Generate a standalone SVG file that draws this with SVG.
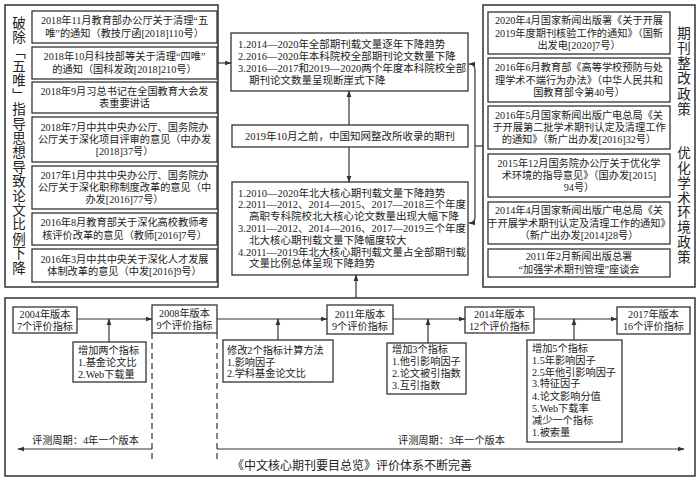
<svg xmlns="http://www.w3.org/2000/svg" width="700" height="483" viewBox="0 0 700 483">
<defs>
<style>
.bg{fill:#fff}
.b{fill:#fff;stroke:#333;stroke-width:1.3}
.o{fill:none;stroke:#333;stroke-width:1.5}
.t{font-family:"Liberation Serif","Noto Sans CJK SC",serif;font-size:10.2px;fill:#222}
.m{font-size:10.5px}
.c{text-anchor:middle}
.v{font-family:"Noto Sans CJK SC",sans-serif;font-size:13.5px;fill:#222;writing-mode:vertical-rl;text-orientation:upright}
.ttl{font-family:"Liberation Serif","Noto Sans CJK SC",serif;font-size:12px;fill:#222;text-anchor:middle}
.ln{fill:none;stroke:#333;stroke-width:1.2}
.ds{fill:none;stroke:#333;stroke-width:1.2;stroke-dasharray:6,4}
</style>
<marker id="ar" viewBox="0 0 10 10" refX="9" refY="5" markerWidth="7" markerHeight="7" orient="auto" markerUnits="userSpaceOnUse">
<path d="M0,1.5 L10,5 L0,8.5 Z" fill="#333"/>
</marker>
</defs>
<rect class="bg" x="0" y="0" width="700" height="483"/>

<g id="left-panel">
<rect class="o" x="5" y="5" width="213" height="282"/>
<text class="v" x="19" y="16" letter-spacing="0.9">破除﹁五唯﹂指导思想导致论文比例下降</text>
</g>
<g id="l1"><rect class="b" x="32" y="11" width="185" height="32"/><text class="t c"><tspan x="124.5" y="24.4">2018年11月教育部办公厅关于清理“五</tspan><tspan x="124.5" y="36.7">唯”的通知（教技厅函[2018]110号）</tspan></text></g>
<g id="l2"><rect class="b" x="32" y="47" width="185" height="32"/><text class="t c"><tspan x="124.5" y="60.4">2018年10月科技部等关于清理“四唯”</tspan><tspan x="124.5" y="72.7">的通知（国科发政[2018]210号）</tspan></text></g>
<g id="l3"><rect class="b" x="32" y="82" width="185" height="31"/><text class="t c"><tspan x="124.5" y="94.9">2018年9月习总书记在全国教育大会发</tspan><tspan x="124.5" y="107.2">表重要讲话</tspan></text></g>
<g id="l4"><rect class="b" x="32" y="117" width="185" height="45"/><text class="t c"><tspan x="124.5" y="130.7">2018年7月中共中央办公厅、国务院办</tspan><tspan x="124.5" y="143">公厅关于深化项目评审的意见（中办发</tspan><tspan x="124.5" y="155.3">[2018]37号）</tspan></text></g>
<g id="l5"><rect class="b" x="32" y="166" width="185" height="43"/><text class="t c"><tspan x="124.5" y="178.7">2017年1月中共中央办公厅、国务院办</tspan><tspan x="124.5" y="191">公厅关于深化职称制度改革的意见（中</tspan><tspan x="124.5" y="203.3">办发[2016]77号）</tspan></text></g>
<g id="l6"><rect class="b" x="32" y="213" width="185" height="32"/><text class="t c"><tspan x="124.5" y="226.4">2016年8月教育部关于深化高校教师考</tspan><tspan x="124.5" y="238.7">核评价改革的意见（教师[2016]7号）</tspan></text></g>
<g id="l7"><rect class="b" x="32" y="249" width="185" height="33"/><text class="t c"><tspan x="124.5" y="262.9">2016年3月中共中央关于深化人才发展</tspan><tspan x="124.5" y="275.2">体制改革的意见（中发[2016]9号）</tspan></text></g>

<g id="right-panel">
<rect class="o" x="483" y="5" width="212" height="282"/>
<text class="v" x="684" y="26" letter-spacing="1.7">期刊整改政策</text>
<text class="v" x="684" y="146" letter-spacing="1.4">优化学术环境政策</text>
</g>
<g id="r1"><rect class="b" x="488" y="12" width="182" height="42"/><text class="t c"><tspan x="579" y="24.2">2020年4月国家新闻出版署《关于开展</tspan><tspan x="579" y="36.5">2019年度期刊核验工作的通知》（国新</tspan><tspan x="579" y="48.8">出发电[2020]7号）</tspan></text></g>
<g id="r2"><rect class="b" x="488" y="58" width="182" height="44"/><text class="t c"><tspan x="579" y="71.2">2016年6月教育部《高等学校预防与处</tspan><tspan x="579" y="83.5">理学术不端行为办法》（中华人民共和</tspan><tspan x="579" y="95.8">国教育部令第40号）</tspan></text></g>
<g id="r3"><rect class="b" x="488" y="106" width="182" height="43"/><text class="t c"><tspan x="579" y="118.7">2016年5月国家新闻出版广电总局《关</tspan><tspan x="579" y="131">于开展第二批学术期刊认定及清理工作</tspan><tspan x="579" y="143.3">的通知》（新广出办发[2016]32号）</tspan></text></g>
<g id="r4"><rect class="b" x="488" y="154" width="182" height="43"/><text class="t c"><tspan x="579" y="166.7">2015年12月国务院办公厅关于优化学</tspan><tspan x="579" y="179">术环境的指导意见》（国办发[2015]</tspan><tspan x="579" y="191.3">94号）</tspan></text></g>
<g id="r5"><rect class="b" x="488" y="202" width="182" height="42"/><text class="t c"><tspan x="579" y="214.2">2014年4月国家新闻出版广电总局《关</tspan><tspan x="579" y="226.5">于开展学术期刊认定及清理工作的通知》</tspan><tspan x="579" y="238.8">（新广出办发[2014]28号）</tspan></text></g>
<g id="r6"><rect class="b" x="488" y="249" width="182" height="28"/><text class="t c"><tspan x="579" y="260.4">2011年2月新闻出版总署</tspan><tspan x="579" y="272.7">“加强学术期刊管理”座谈会</tspan></text></g>

<g id="m1"><rect class="b" x="231" y="33" width="237" height="58"/><text class="t m"><tspan x="238" y="47.5">1.2014—2020年全部期刊载文量逐年下降趋势</tspan><tspan x="238" y="59.5">2.2016—2020年本科院校全部期刊论文数量下降</tspan><tspan x="238" y="71.5">3.2016—2017和2019—2020两个年度本科院校全部</tspan><tspan x="249" y="83.5">期刊论文数量呈现断崖式下降</tspan></text></g>
<g id="m2"><rect class="b" x="232" y="125" width="236" height="22"/><text class="t m c" x="350" y="139.5">2019年10月之前，中国知网整改所收录的期刊</text></g>
<g id="m3"><rect class="b" x="232" y="182" width="236" height="93"/><text class="t m"><tspan x="238" y="196.6">1.2010—2020年北大核心期刊载文量下降趋势</tspan><tspan x="238" y="208.4">2.2011—2012、2014—2015、2017—2018三个年度</tspan><tspan x="249" y="220.2">高职专科院校北大核心论文数量出现大幅下降</tspan><tspan x="238" y="232">3.2011—2012、2014—2016、2017—2019三个年度</tspan><tspan x="249" y="243.8">北大核心期刊载文量下降幅度较大</tspan><tspan x="238" y="255.6">4.2011—2019年北大核心期刊载文量占全部期刊载</tspan><tspan x="249" y="267.4">文量比例总体呈现下降趋势</tspan></text></g>

<g id="bottom-panel">
<rect class="o" x="5" y="298" width="690" height="178"/>
<text class="ttl" x="352" y="470">《中文核心期刊要目总览》评价体系不断完善</text>
<text class="t" x="32" y="444">评测周期：4年一个版本</text>
<text class="t" x="398" y="444">评测周期：3年一个版本</text>
</g>
<g id="v2004"><rect class="b" x="13" y="307" width="64" height="26"/><text class="t c"><tspan x="45" y="318">2004年版本</tspan><tspan x="45" y="329.5">7个评价指标</tspan></text></g>
<g id="v2008"><rect class="b" x="152" y="305" width="65" height="28"/><text class="t c"><tspan x="184.5" y="317">2008年版本</tspan><tspan x="184.5" y="329">9个评价指标</tspan></text></g>
<g id="v2011"><rect class="b" x="327" y="305" width="66" height="29"/><text class="t c"><tspan x="360" y="318">2011年版本</tspan><tspan x="360" y="329.5">9个评价指标</tspan></text></g>
<g id="v2014"><rect class="b" x="465" y="307" width="69" height="26"/><text class="t c"><tspan x="499.5" y="318">2014年版本</tspan><tspan x="499.5" y="329.5">12个评价指标</tspan></text></g>
<g id="v2017"><rect class="b" x="617" y="307" width="73" height="27"/><text class="t c"><tspan x="653.5" y="318">2017年版本</tspan><tspan x="653.5" y="329.5">16个评价指标</tspan></text></g>
<g id="a1"><rect class="b" x="73" y="342" width="73" height="40"/><text class="t"><tspan x="78" y="354">增加两个指标</tspan><tspan x="78" y="366">1.基金论文比</tspan><tspan x="78" y="377.5">2.Web下载量</tspan></text></g>
<g id="a2"><rect class="b" x="223" y="340" width="110" height="42"/><text class="t"><tspan x="227" y="353.5">修改2个指标计算方法</tspan><tspan x="227" y="365.5">1.影响因子</tspan><tspan x="227" y="377">2.学科基金论文比</tspan></text></g>
<g id="a3"><rect class="b" x="387" y="343" width="79" height="51"/><text class="t"><tspan x="392" y="352.5">增加3个指标</tspan><tspan x="392" y="364.5">1.他引影响因子</tspan><tspan x="392" y="376.5">2.论文被引指数</tspan><tspan x="392" y="389">3.互引指数</tspan></text></g>
<g id="a4"><rect class="b" x="527" y="340" width="95" height="102"/><text class="t"><tspan x="532" y="351.5">增加5个指标</tspan><tspan x="532" y="363.5">1.5年影响因子</tspan><tspan x="532" y="375.5">2.5年他引影响因子</tspan><tspan x="532" y="387">3.特征因子</tspan><tspan x="532" y="399.5">4.论文影响分值</tspan><tspan x="532" y="411.5">5.Web下载率</tspan><tspan x="532" y="423.5">减少一个指标</tspan><tspan x="532" y="436">1.被索量</tspan></text></g>

<g id="connectors">
<line class="ln" x1="218" y1="63" x2="231" y2="63" marker-end="url(#ar)"/>
<line class="ln" x1="349" y1="125" x2="349" y2="91" marker-end="url(#ar)"/>
<line class="ln" x1="349" y1="147" x2="349" y2="182" marker-end="url(#ar)"/>
<line class="ln" x1="356" y1="298" x2="356" y2="275" marker-end="url(#ar)"/>
<line class="ln" x1="483" y1="146" x2="475" y2="146"/>
<path class="ln" d="M475,146 V70 Q475,64 469,64" marker-end="url(#ar)"/>
<path class="ln" d="M475,146 V217 Q475,223 469,223" marker-end="url(#ar)"/>
<line class="ln" x1="77" y1="319" x2="152" y2="319" marker-end="url(#ar)"/>
<line class="ln" x1="217" y1="319" x2="327" y2="319" marker-end="url(#ar)"/>
<line class="ln" x1="393" y1="319" x2="465" y2="319" marker-end="url(#ar)"/>
<line class="ln" x1="534" y1="319" x2="617" y2="319" marker-end="url(#ar)"/>
<line class="ln" x1="109" y1="342" x2="109" y2="319" marker-end="url(#ar)"/>
<line class="ln" x1="278" y1="340" x2="278" y2="319" marker-end="url(#ar)"/>
<line class="ln" x1="428" y1="343" x2="428" y2="319" marker-end="url(#ar)"/>
<line class="ln" x1="574" y1="340" x2="574" y2="319" marker-end="url(#ar)"/>
<line class="ds" x1="152" y1="333" x2="152" y2="460"/>
<line class="ds" x1="217" y1="333" x2="217" y2="460"/>
<line class="ln" x1="152" y1="449" x2="18" y2="449" marker-end="url(#ar)"/>
<line class="ln" x1="217" y1="449" x2="684" y2="449" marker-end="url(#ar)"/>
</g>
</svg>
